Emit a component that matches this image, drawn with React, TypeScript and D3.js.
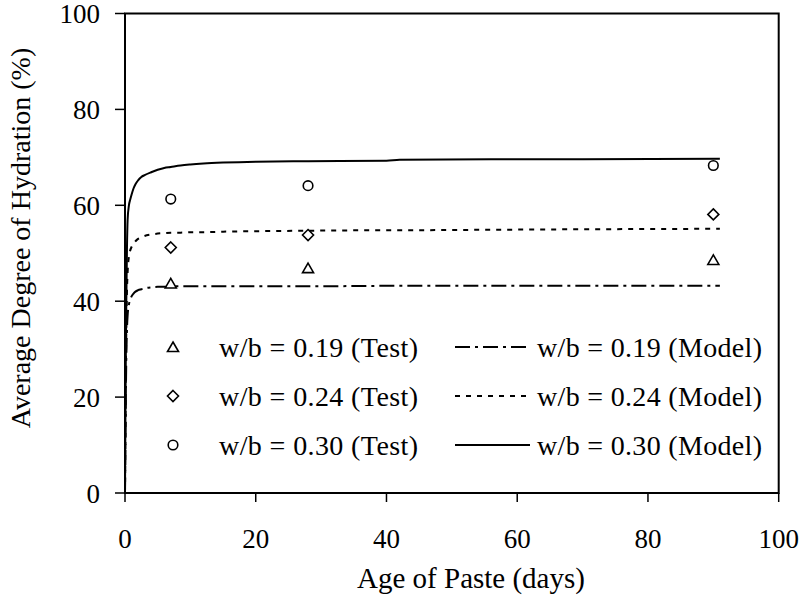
import React from "react";
import * as d3 from "d3";

const xTicks = [0, 20, 40, 60, 80, 100];
const yTicks = [0, 20, 40, 60, 80, 100];

const testAge = [7, 28, 90];
const test019 = [43.7, 46.9, 48.6];
const test024 = [51.2, 53.8, 58.1];
const test030 = [61.3, 64.1, 68.3];

const modelAge = [0, 0.05, 0.1, 0.2, 0.3, 0.4, 0.6, 0.8, 1, 1.3, 1.6, 2, 2.5, 3, 4, 5, 6, 7, 8.5, 10, 12, 15, 20, 28, 40, 42, 56, 70, 91];
const model019 = [0, 8, 16, 28, 34, 37, 39.3, 40.3, 41, 41.6, 42, 42.3, 42.5, 42.7, 42.9, 43, 43, 43.1, 43.1, 43.1, 43.1, 43.1, 43.1, 43.1, 43.2, 43.2, 43.2, 43.2, 43.2];
const model024 = [0, 10, 20, 34, 42, 46, 49.3, 50.6, 51.3, 52, 52.5, 53, 53.3, 53.6, 53.9, 54.1, 54.2, 54.3, 54.3, 54.4, 54.4, 54.5, 54.6, 54.7, 54.8, 54.8, 54.9, 55.0, 55.1];
const model030 = [0, 12, 24, 40, 51, 57, 60, 61.2, 62.2, 63.5, 64.4, 65.2, 65.9, 66.3, 66.9, 67.4, 67.8, 68.0, 68.3, 68.5, 68.7, 68.9, 69.1, 69.2, 69.3, 69.5, 69.6, 69.6, 69.7];

const testLabels = ["w/b = 0.19 (Test)", "w/b = 0.24 (Test)", "w/b = 0.30 (Test)"];
const modelLabels = ["w/b = 0.19 (Model)", "w/b = 0.24 (Model)", "w/b = 0.30 (Model)"];

const FONT = "'Liberation Serif', 'Times New Roman', serif";

const triangle = "M0,-5 L5.5,4.5 L-5.5,4.5 Z";
const diamond = "M0,-5.5 L5.5,0 L0,5.5 L-5.5,0 Z";

function Marker({ kind, x, y }: { kind: number; x: number; y: number }) {
  if (kind === 2) {
    return <circle cx={x} cy={y} r={4.8} fill="white" stroke="black" strokeWidth={1.6} />;
  }
  return (
    <path
      d={kind === 0 ? triangle : diamond}
      transform={`translate(${x},${y})`}
      fill="white"
      stroke="black"
      strokeWidth={1.6}
      strokeLinejoin="miter"
    />
  );
}

export default function App() {
  const x = d3.scaleLinear().domain([0, 100]).range([125, 778.7]);
  const y = d3.scaleLinear().domain([0, 100]).range([493, 13.5]);

  const line = d3
    .line<number>()
    .x((_, i) => x(modelAge[i]))
    .y((d) => y(d))
    .curve(d3.curveMonotoneX);

  const models = [model019, model024, model030];
  const tests = [test019, test024, test030];
  const dashes = ["15,5,3,5", "5,6", "none"];

  const legendRows = [347, 396, 445];

  return (
    <svg
      width={804}
      height={602}
      style={{ position: "absolute", left: 0, top: 0, background: "white" }}
      fontFamily={FONT}
    >
      <rect x={0} y={0} width={804} height={602} fill="white" />
      {models.map((m, k) => (
        <path
          key={"m" + k}
          d={line(m) || ""}
          fill="none"
          stroke="black"
          strokeWidth={2}
          strokeDasharray={dashes[k]}
        />
      ))}
      {tests.map((t, k) =>
        t.map((v, i) => <Marker key={`t${k}-${i}`} kind={k} x={x(testAge[i])} y={y(v)} />)
      )}
      {legendRows.map((ly, k) => (
        <g key={"l" + k}>
          <Marker kind={k} x={173} y={ly} />
          <text x={219} y={ly + 9.5} fontSize={28} fill="black" textLength={199} lengthAdjust="spacing">
            {testLabels[k]}
          </text>
          <line
            x1={455}
            x2={530}
            y1={ly}
            y2={ly}
            stroke="black"
            strokeWidth={2}
            strokeDasharray={dashes[k]}
          />
          <text x={537} y={ly + 9.5} fontSize={28} fill="black" textLength={225} lengthAdjust="spacing">
            {modelLabels[k]}
          </text>
        </g>
      ))}
      <rect
        x={x(0)}
        y={y(100)}
        width={x(100) - x(0)}
        height={y(0) - y(100)}
        fill="none"
        stroke="black"
        strokeWidth={2}
      />
      {yTicks.map((t) => (
        <g key={"yt" + t}>
          <line x1={x(0) - 10} x2={x(0)} y1={y(t)} y2={y(t)} stroke="black" strokeWidth={1.5} />
          <text x={100} y={y(t) + 9.5} fontSize={27} textAnchor="end" fill="black">
            {t}
          </text>
        </g>
      ))}
      {xTicks.map((t) => (
        <g key={"xt" + t}>
          <line x1={x(t)} x2={x(t)} y1={y(0)} y2={y(0) + 9} stroke="black" strokeWidth={1.5} />
          <text x={x(t)} y={548} fontSize={27} textAnchor="middle" fill="black">
            {t}
          </text>
        </g>
      ))}
      <text x={471} y={588} fontSize={29} textAnchor="middle" fill="black">
        Age of Paste (days)
      </text>
      <text
        transform={`translate(30,238) rotate(-90)`}
        fontSize={28}
        textAnchor="middle"
        fill="black"
      >
        Average Degree of Hydration (%)
      </text>
    </svg>
  );
}
